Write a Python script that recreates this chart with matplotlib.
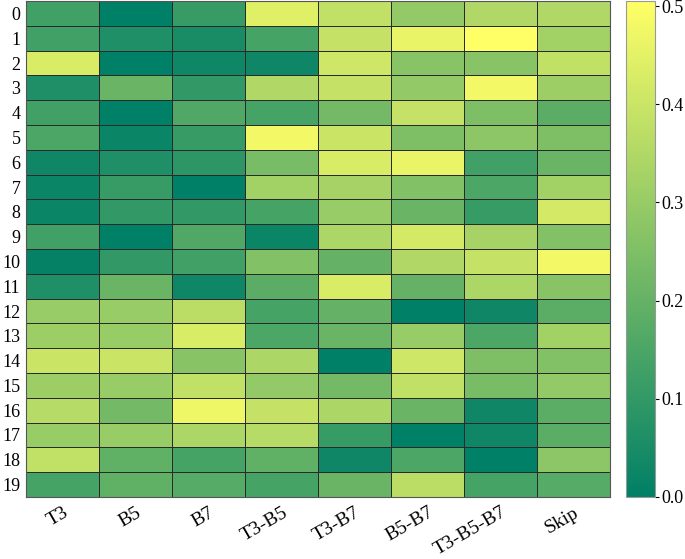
import numpy as np
import matplotlib.pyplot as plt
import matplotlib.transforms as mtransforms

plt.rcParams['font.family'] = ['Liberation Serif', 'DejaVu Serif']

# columnas y filas
cols = ['T3', 'B5', 'B7', 'T3-B5', 'T3-B7', 'B5-B7', 'T3-B5-B7', 'Skip']
rows = [str(i) for i in range(20)]

# valores
r00 = [0.13, 0.00, 0.11, 0.44, 0.38, 0.29, 0.35, 0.35]
r01 = [0.13, 0.06, 0.05, 0.14, 0.39, 0.46, 0.505, 0.32]
r02 = [0.43, 0.00, 0.03, 0.03, 0.41, 0.27, 0.27, 0.38]
r03 = [0.06, 0.21, 0.10, 0.35, 0.39, 0.29, 0.48, 0.31]
r04 = [0.13, 0.00, 0.16, 0.14, 0.23, 0.39, 0.25, 0.18]
r05 = [0.15, 0.02, 0.11, 0.48, 0.40, 0.25, 0.28, 0.25]
r06 = [0.03, 0.06, 0.09, 0.24, 0.43, 0.46, 0.13, 0.21]
r07 = [0.02, 0.11, 0.00, 0.32, 0.33, 0.26, 0.15, 0.32]
r08 = [0.02, 0.10, 0.10, 0.14, 0.30, 0.21, 0.11, 0.42]
r09 = [0.13, 0.00, 0.16, 0.02, 0.34, 0.42, 0.33, 0.26]
r10 = [0.01, 0.10, 0.13, 0.26, 0.20, 0.35, 0.39, 0.48]
r11 = [0.06, 0.21, 0.03, 0.18, 0.43, 0.20, 0.34, 0.27]
r12 = [0.30, 0.30, 0.37, 0.14, 0.20, 0.00, 0.03, 0.18]
r13 = [0.31, 0.30, 0.43, 0.15, 0.21, 0.30, 0.15, 0.32]
r14 = [0.40, 0.40, 0.27, 0.34, 0.00, 0.41, 0.25, 0.26]
r15 = [0.31, 0.30, 0.38, 0.29, 0.23, 0.38, 0.24, 0.29]
r16 = [0.36, 0.23, 0.47, 0.39, 0.34, 0.21, 0.03, 0.18]
r17 = [0.30, 0.30, 0.34, 0.36, 0.11, 0.00, 0.03, 0.18]
r18 = [0.38, 0.19, 0.14, 0.19, 0.03, 0.15, 0.00, 0.28]
r19 = [0.14, 0.19, 0.17, 0.14, 0.21, 0.37, 0.14, 0.17]

data = np.array([r00, r01, r02, r03, r04, r05, r06, r07, r08, r09,
                 r10, r11, r12, r13, r14, r15, r16, r17, r18, r19])

fig = plt.figure(figsize=(6.85, 5.59), dpi=100)
ax = fig.add_axes([0.038, 0.111, 0.852, 0.887])
cax = fig.add_axes([0.914, 0.111, 0.042, 0.887])

# dibujar mapa de calor
m = ax.pcolormesh(data, cmap='summer', vmin=0, vmax=data.max(),
                  edgecolors='#2a2a2a', linewidth=0.65)
ax.set_xlim(0, len(cols))
ax.set_ylim(len(rows), 0)
ax.set_xticks(np.arange(len(cols)) + 0.5)
ax.set_xticklabels(cols, rotation=30, ha='right', fontsize=14)
ax.set_yticks(np.arange(len(rows)) + 0.5)
ax.set_yticklabels(rows, fontsize=13)
ax.tick_params(axis='y', length=0, pad=4)
ax.tick_params(axis='x', length=0, pad=5)
# correr etiquetas un poco a la derecha
off = mtransforms.ScaledTranslation(9 / 100, 0, fig.dpi_scale_trans)
for lab in ax.get_xticklabels():
    lab.set_transform(lab.get_transform() + off)
for s in ax.spines.values():
    s.set_edgecolor('#555555')
    s.set_linewidth(0.8)

cb = fig.colorbar(m, cax=cax)
cb.set_ticks([0.0, 0.1, 0.2, 0.3, 0.4, 0.5])
cb.ax.tick_params(labelsize=13, length=3, pad=2)
cb.outline.set_edgecolor('#999999')

fig.savefig('out.png', dpi=100)
